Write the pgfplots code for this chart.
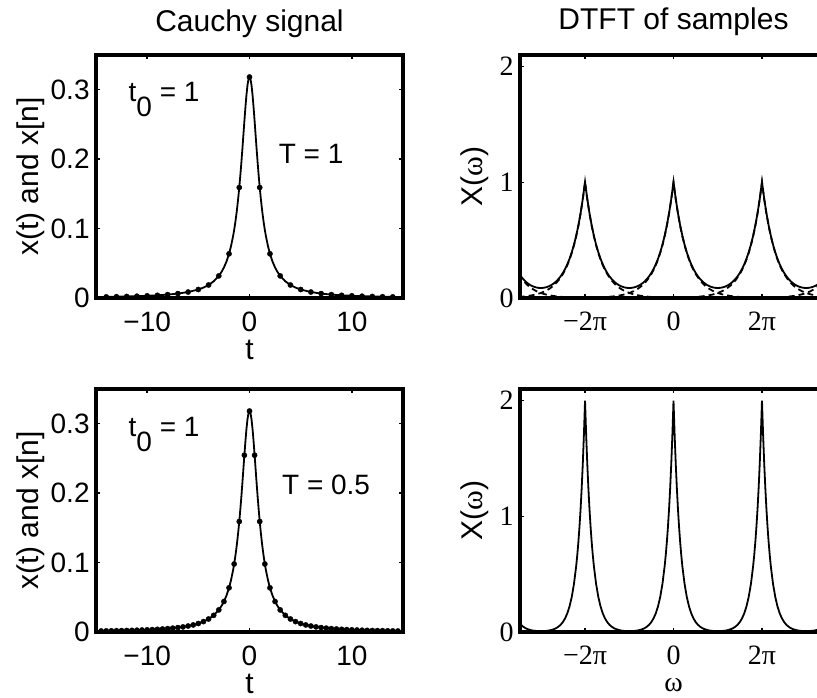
\documentclass[border=0pt]{standalone}
\usepackage{fontspec}
\setmainfont{Liberation Sans}
\newfontfamily\serifnum{Liberation Serif}
\usepackage{pgfplots}
\usepackage{pgfplotstable}
\pgfplotsset{compat=1.18}

\pgfplotstableread{
t y
-15 0.001408
-14 0.001616
-13 0.001872
-12 0.002195
-11 0.002609
-10 0.003152
-9 0.003882
-8 0.004897
-7 0.006366
-6 0.008603
-5 0.012243
-4.5 0.014979
-4 0.018724
-3.5 0.024023
-3 0.031831
-2.75 0.037175
-2.5 0.043905
-2.25 0.052505
-2 0.063662
-1.8 0.075074
-1.6 0.089413
-1.5 0.097942
-1.4 0.107537
-1.3 0.118331
-1.2 0.130455
-1.1 0.144032
-1 0.159155
-0.9 0.175862
-0.8 0.194091
-0.7 0.213631
-0.6 0.234051
-0.5 0.254648
-0.4 0.274405
-0.3 0.292028
-0.2 0.306067
-0.1 0.315158
0 0.318310
0.1 0.315158
0.2 0.306067
0.3 0.292028
0.4 0.274405
0.5 0.254648
0.6 0.234051
0.7 0.213631
0.8 0.194091
0.9 0.175862
1 0.159155
1.1 0.144032
1.2 0.130455
1.3 0.118331
1.4 0.107537
1.5 0.097942
1.6 0.089413
1.8 0.075074
2 0.063662
2.25 0.052505
2.5 0.043905
2.75 0.037175
3 0.031831
3.5 0.024023
4 0.018724
4.5 0.014979
5 0.012243
6 0.008603
7 0.006366
8 0.004897
9 0.003882
10 0.003152
11 0.002609
12 0.002195
13 0.001872
14 0.001616
15 0.001408
}\cauchy

\pgfplotstableread{
t y
-14 0.001616
-13 0.001872
-12 0.002195
-11 0.002609
-10 0.003152
-9 0.003882
-8 0.004897
-7 0.006366
-6 0.008603
-5 0.012243
-4 0.018724
-3 0.031831
-2 0.063662
-1 0.159155
0 0.318310
1 0.159155
2 0.063662
3 0.031831
4 0.018724
5 0.012243
6 0.008603
7 0.006366
8 0.004897
9 0.003882
10 0.003152
11 0.002609
12 0.002195
13 0.001872
14 0.001616
}\sampA

\pgfplotstableread{
t y
-14.5 0.001507
-14 0.001616
-13.5 0.001737
-13 0.001872
-12.5 0.002024
-12 0.002195
-11.5 0.002389
-11 0.002609
-10.5 0.002861
-10 0.003152
-9.5 0.003488
-9 0.003882
-8.5 0.004346
-8 0.004897
-7.5 0.005560
-7 0.006366
-6.5 0.007360
-6 0.008603
-5.5 0.010186
-5 0.012243
-4.5 0.014979
-4 0.018724
-3.5 0.024023
-3 0.031831
-2.5 0.043905
-2 0.063662
-1.5 0.097942
-1 0.159155
-0.5 0.254648
0 0.318310
0.5 0.254648
1 0.159155
1.5 0.097942
2 0.063662
2.5 0.043905
3 0.031831
3.5 0.024023
4 0.018724
4.5 0.014979
5 0.012243
5.5 0.010186
6 0.008603
6.5 0.007360
7 0.006366
7.5 0.005560
8 0.004897
8.5 0.004346
9 0.003882
9.5 0.003488
10 0.003152
10.5 0.002861
11 0.002609
11.5 0.002389
12 0.002195
12.5 0.002024
13 0.001872
13.5 0.001737
14 0.001616
14.5 0.001507
}\sampB

\pgfplotstableread{
w y
-3.50 0.21727
-3.45 0.18852
-3.40 0.16444
-3.35 0.14442
-3.30 0.12798
-3.25 0.11470
-3.20 0.10425
-3.15 0.09638
-3.10 0.09090
-3.05 0.08766
-3.00 0.08659
-2.95 0.08766
-2.90 0.09090
-2.85 0.09638
-2.80 0.10425
-2.75 0.11470
-2.70 0.12798
-2.65 0.14442
-2.60 0.16444
-2.55 0.18852
-2.50 0.21727
-2.45 0.25138
-2.40 0.29171
-2.35 0.33925
-2.30 0.39519
-2.25 0.46090
-2.20 0.53800
-2.15 0.62840
-2.10 0.73433
-2.05 0.85843
-2.00 1.00374
-1.95 0.85843
-1.90 0.73433
-1.85 0.62840
-1.80 0.53800
-1.75 0.46090
-1.70 0.39519
-1.65 0.33925
-1.60 0.29171
-1.55 0.25138
-1.50 0.21727
-1.45 0.18852
-1.40 0.16444
-1.35 0.14442
-1.30 0.12798
-1.25 0.11470
-1.20 0.10425
-1.15 0.09638
-1.10 0.09090
-1.05 0.08766
-1.00 0.08659
-0.95 0.08766
-0.90 0.09090
-0.85 0.09638
-0.80 0.10425
-0.75 0.11470
-0.70 0.12798
-0.65 0.14442
-0.60 0.16444
-0.55 0.18852
-0.50 0.21727
-0.45 0.25138
-0.40 0.29171
-0.35 0.33925
-0.30 0.39519
-0.25 0.46090
-0.20 0.53800
-0.15 0.62840
-0.10 0.73433
-0.05 0.85843
0.00 1.00374
0.05 0.85843
0.10 0.73433
0.15 0.62840
0.20 0.53800
0.25 0.46090
0.30 0.39519
0.35 0.33925
0.40 0.29171
0.45 0.25138
0.50 0.21727
0.55 0.18852
0.60 0.16444
0.65 0.14442
0.70 0.12798
0.75 0.11470
0.80 0.10425
0.85 0.09638
0.90 0.09090
0.95 0.08766
1.00 0.08659
1.05 0.08766
1.10 0.09090
1.15 0.09638
1.20 0.10425
1.25 0.11470
1.30 0.12798
1.35 0.14442
1.40 0.16444
1.45 0.18852
1.50 0.21727
1.55 0.25138
1.60 0.29171
1.65 0.33925
1.70 0.39519
1.75 0.46090
1.80 0.53800
1.85 0.62840
1.90 0.73433
1.95 0.85843
2.00 1.00374
2.05 0.85843
2.10 0.73433
2.15 0.62840
2.20 0.53800
2.25 0.46090
2.30 0.39519
2.35 0.33925
2.40 0.29171
2.45 0.25138
2.50 0.21727
2.55 0.18852
2.60 0.16444
2.65 0.14442
2.70 0.12798
2.75 0.11470
2.80 0.10425
2.85 0.09638
2.90 0.09090
2.95 0.08766
3.00 0.08659
3.05 0.08766
3.10 0.09090
3.15 0.09638
3.20 0.10425
3.25 0.11470
3.30 0.12798
3.35 0.14442
3.40 0.16444
3.45 0.18852
3.50 0.21727
}\dtftA

\pgfplotstableread{
w y
-3.5 0.00002
-3.0 0.00008
-2.5 0.00039
-2.0 0.00187
-1.8 0.00350
-1.6 0.00657
-1.5 0.00898
-1.4 0.01230
-1.3 0.01684
-1.2 0.02305
-1.1 0.03156
-1.0 0.04321
-0.9 0.05917
-0.8 0.08100
-0.7 0.11090
-0.6 0.15184
-0.5 0.20788
-0.45 0.24324
-0.4 0.28462
-0.35 0.33302
-0.3 0.38966
-0.25 0.45594
-0.2 0.53349
-0.15 0.62424
-0.1 0.73041
-0.05 0.85464
0 1
0.05 0.85464
0.1 0.73041
0.15 0.62424
0.2 0.53349
0.25 0.45594
0.3 0.38966
0.35 0.33302
0.4 0.28462
0.45 0.24324
0.5 0.20788
0.6 0.15184
0.7 0.11090
0.8 0.08100
0.9 0.05917
1.0 0.04321
1.1 0.03156
1.2 0.02305
1.3 0.01684
1.4 0.01230
1.5 0.00898
1.6 0.00657
1.8 0.00350
2.0 0.00187
2.5 0.00039
3.0 0.00008
3.5 0.00002
}\copyZ

\pgfplotstableread{
w y
-3.5 0
-2.0 0
-1.0 0.00008
-0.5 0.00039
0.0 0.00187
0.2 0.00350
0.4 0.00657
0.5 0.00898
0.6 0.01230
0.7 0.01684
0.8 0.02305
0.9 0.03156
1.0 0.04321
1.1 0.05917
1.2 0.08100
1.3 0.11090
1.4 0.15184
1.5 0.20788
1.55 0.24324
1.6 0.28462
1.65 0.33302
1.7 0.38966
1.75 0.45594
1.8 0.53349
1.85 0.62424
1.9 0.73041
1.95 0.85464
2.0 1
2.05 0.85464
2.1 0.73041
2.15 0.62424
2.2 0.53349
2.25 0.45594
2.3 0.38966
2.35 0.33302
2.4 0.28462
2.45 0.24324
2.5 0.20788
2.6 0.15184
2.7 0.11090
2.8 0.08100
2.9 0.05917
3.0 0.04321
3.1 0.03156
3.2 0.02305
3.3 0.01684
3.4 0.01230
3.5 0.00898
}\copyP

\pgfplotstableread{
w y
-3.5 0.00898
-3.4 0.01230
-3.3 0.01684
-3.2 0.02305
-3.1 0.03156
-3.0 0.04321
-2.9 0.05917
-2.8 0.08100
-2.7 0.11090
-2.6 0.15184
-2.5 0.20788
-2.45 0.24324
-2.4 0.28462
-2.35 0.33302
-2.3 0.38966
-2.25 0.45594
-2.2 0.53349
-2.15 0.62424
-2.1 0.73041
-2.05 0.85464
-2.0 1
-1.95 0.85464
-1.9 0.73041
-1.85 0.62424
-1.8 0.53349
-1.75 0.45594
-1.7 0.38966
-1.65 0.33302
-1.6 0.28462
-1.55 0.24324
-1.5 0.20788
-1.4 0.15184
-1.3 0.11090
-1.2 0.08100
-1.1 0.05917
-1.0 0.04321
-0.9 0.03156
-0.8 0.02305
-0.7 0.01684
-0.6 0.01230
-0.5 0.00898
-0.4 0.00657
-0.2 0.00350
0.0 0.00187
0.5 0.00039
1.0 0.00008
2.0 0
3.5 0
}\copyM

\pgfplotstableread{
w y
-3.5 0
0.0 0
1.0 0.00008
1.5 0.00039
2.0 0.00187
2.2 0.00350
2.4 0.00657
2.5 0.00898
2.6 0.01230
2.7 0.01684
2.8 0.02305
2.9 0.03156
3.0 0.04321
3.1 0.05917
3.2 0.08100
3.3 0.11090
3.4 0.15184
3.5 0.20788
}\copyPP

\pgfplotstableread{
w y
-3.5 0.20788
-3.4 0.15184
-3.3 0.11090
-3.2 0.08100
-3.1 0.05917
-3.0 0.04321
-2.9 0.03156
-2.8 0.02305
-2.7 0.01684
-2.6 0.01230
-2.5 0.00898
-2.4 0.00657
-2.2 0.00350
-2.0 0.00187
-1.5 0.00039
-1.0 0.00008
0.0 0
3.5 0
}\copyMM

\pgfplotstableread{
w y
-3.5 0.08659
-3.45 0.06335
-3.4 0.04641
-3.35 0.03409
-3.3 0.02516
-3.25 0.01875
-3.2 0.01419
-3.15 0.01104
-3.1 0.00900
-3.05 0.00785
-3.0 0.00747
-2.95 0.00785
-2.9 0.00900
-2.85 0.01104
-2.8 0.01419
-2.75 0.01875
-2.7 0.02516
-2.65 0.03409
-2.6 0.04641
-2.55 0.06335
-2.5 0.08659
-2.45 0.11845
-2.4 0.16209
-2.35 0.22180
-2.3 0.30367
-2.25 0.41576
-2.2 0.56924
-2.175 0.66604
-2.15 0.77932
-2.125 0.91188
-2.1 1.06699
-2.075 1.24847
-2.05 1.46082
-2.025 1.70928
-2.0 2.00000
-1.975 1.70928
-1.95 1.46082
-1.925 1.24847
-1.9 1.06699
-1.875 0.91188
-1.85 0.77932
-1.825 0.66604
-1.8 0.56924
-1.75 0.41576
-1.7 0.30367
-1.65 0.22180
-1.6 0.16209
-1.55 0.11845
-1.5 0.08659
-1.45 0.06335
-1.4 0.04641
-1.35 0.03409
-1.3 0.02516
-1.25 0.01875
-1.2 0.01419
-1.15 0.01104
-1.1 0.00900
-1.05 0.00785
-1.0 0.00747
-0.95 0.00785
-0.9 0.00900
-0.85 0.01104
-0.8 0.01419
-0.75 0.01875
-0.7 0.02516
-0.65 0.03409
-0.6 0.04641
-0.55 0.06335
-0.5 0.08659
-0.45 0.11845
-0.4 0.16209
-0.35 0.22180
-0.3 0.30367
-0.25 0.41576
-0.2 0.56924
-0.175 0.66604
-0.15 0.77932
-0.125 0.91188
-0.1 1.06699
-0.075 1.24847
-0.05 1.46082
-0.025 1.70928
0.0 2.00000
0.025 1.70928
0.05 1.46082
0.075 1.24847
0.1 1.06699
0.125 0.91188
0.15 0.77932
0.175 0.66604
0.2 0.56924
0.25 0.41576
0.3 0.30367
0.35 0.22180
0.4 0.16209
0.45 0.11845
0.5 0.08659
0.55 0.06335
0.6 0.04641
0.65 0.03409
0.7 0.02516
0.75 0.01875
0.8 0.01419
0.85 0.01104
0.9 0.00900
0.95 0.00785
1.0 0.00747
1.05 0.00785
1.1 0.00900
1.15 0.01104
1.2 0.01419
1.25 0.01875
1.3 0.02516
1.35 0.03409
1.4 0.04641
1.45 0.06335
1.5 0.08659
1.55 0.11845
1.6 0.16209
1.65 0.22180
1.7 0.30367
1.75 0.41576
1.8 0.56924
1.825 0.66604
1.85 0.77932
1.875 0.91188
1.9 1.06699
1.925 1.24847
1.95 1.46082
1.975 1.70928
2.0 2.00000
2.025 1.70928
2.05 1.46082
2.075 1.24847
2.1 1.06699
2.125 0.91188
2.15 0.77932
2.175 0.66604
2.2 0.56924
2.25 0.41576
2.3 0.30367
2.35 0.22180
2.4 0.16209
2.45 0.11845
2.5 0.08659
2.55 0.06335
2.6 0.04641
2.65 0.03409
2.7 0.02516
2.75 0.01875
2.8 0.01419
2.85 0.01104
2.9 0.00900
2.95 0.00785
3.0 0.00747
3.05 0.00785
3.1 0.00900
3.15 0.01104
3.2 0.01419
3.25 0.01875
3.3 0.02516
3.35 0.03409
3.4 0.04641
3.45 0.06335
3.5 0.08659
}\dtftB

\pgfplotsset{
  every axis title shift=0pt,
  base/.style={
    scale only axis, width=153.5pt, height=121.5pt, anchor=south west,
    axis line style={line width=1.6pt, black},
    tick align=inside, major tick length=2pt,
    tick style={black, line width=0.7pt},
    font=\fontsize{14}{16}\selectfont,
    tick label style={font=\fontsize{14}{16}\selectfont},
    xticklabel style={inner sep=0pt, anchor=north, yshift=-6.7pt},
    yticklabel style={inner sep=0pt, anchor=east, xshift=-3pt},
    label style={font=\fontsize{15}{17}\selectfont},
    title style={font=\fontsize{15}{17}\selectfont, anchor=base},
    every axis plot/.append style={line width=0.9pt, black},
  },
  leftax/.style={
    base, xmin=-15, xmax=15, ymin=0, ymax=0.35,
    xtick={-10,0,10}, xticklabels={−10,0,10},
    ytick={0,0.1,0.2,0.3}, yticklabels={0,0.1,0.2,0.3},
    ylabel={x(t) and x[n]},
    ylabel style={at={(axis description cs:-0.212,0.5)}, anchor=center},
    xlabel={t},
    xlabel style={at={(axis description cs:0.5,-0.214)}, anchor=center, inner sep=0pt},
  },
  rightax/.style={
    base, xmin=-3.47, xmax=3.47, ymin=0, ymax=2.1,
    xtick={-2,0,2}, xticklabels={−2π,0,2π},
    ytick={0,1,2}, yticklabels={0,1,2},
    tick label style={font=\serifnum\fontsize{14}{16}\selectfont},
    ylabel={X({\serifnum ω})},
    ylabel style={at={(axis description cs:-0.147,0.5)}, anchor=center},
  },
  dotmk/.style={only marks, mark=*, mark size=1.3pt, mark options={fill=black, draw=black, line width=0.2pt}},
}

\begin{document}
\begin{tikzpicture}
% top-left
\begin{axis}[leftax, at={(48pt,199.5pt)},
  title={Cauchy signal}, title style={at={(axis description cs:0.5,1.096)}}]
\addplot[no marks] table[x=t,y=y] {\cauchy};
\addplot[dotmk] table[x=t,y=y] {\sampA};
\node[anchor=base west, inner sep=0pt] at (axis description cs:0.105,0.808) {t\raisebox{-7.5pt}{0} = 1};
\node[anchor=base west, inner sep=0pt] at (axis description cs:0.594,0.554) {T = 1};
\end{axis}
% bottom-left
\begin{axis}[leftax, at={(48pt,32.5pt)}]
\addplot[no marks] table[x=t,y=y] {\cauchy};
\addplot[dotmk] table[x=t,y=y] {\sampB};
\node[anchor=base west, inner sep=0pt] at (axis description cs:0.105,0.804) {t\raisebox{-7.5pt}{0} = 1};
\node[anchor=base west, inner sep=0pt] at (axis description cs:0.605,0.564) {T = 0.5};
\end{axis}
% top-right
\begin{axis}[rightax, at={(260pt,199.5pt)},
  title={DTFT of samples}, title style={at={(axis description cs:0.5,1.103)}}]
\addplot[no marks, dash pattern=on 3pt off 2pt] table[x=w,y=y] {\copyMM};
\addplot[no marks, dash pattern=on 3pt off 2pt] table[x=w,y=y] {\copyM};
\addplot[no marks, dash pattern=on 3pt off 2pt] table[x=w,y=y] {\copyZ};
\addplot[no marks, dash pattern=on 3pt off 2pt] table[x=w,y=y] {\copyP};
\addplot[no marks, dash pattern=on 3pt off 2pt] table[x=w,y=y] {\copyPP};
\addplot[no marks] table[x=w,y=y] {\dtftA};
\end{axis}
% bottom-right
\begin{axis}[rightax, at={(260pt,32.5pt)},
  xlabel={{\serifnum\fontsize{14}{16}\selectfont ω}},
  xlabel style={at={(axis description cs:0.5,-0.219)}, anchor=center, inner sep=0pt}]
\addplot[no marks] table[x=w,y=y] {\dtftB};
\end{axis}
\pgfresetboundingbox
\path[use as bounding box] (0pt,0pt) rectangle (408.5pt,348.5pt);
\end{tikzpicture}
\end{document}
